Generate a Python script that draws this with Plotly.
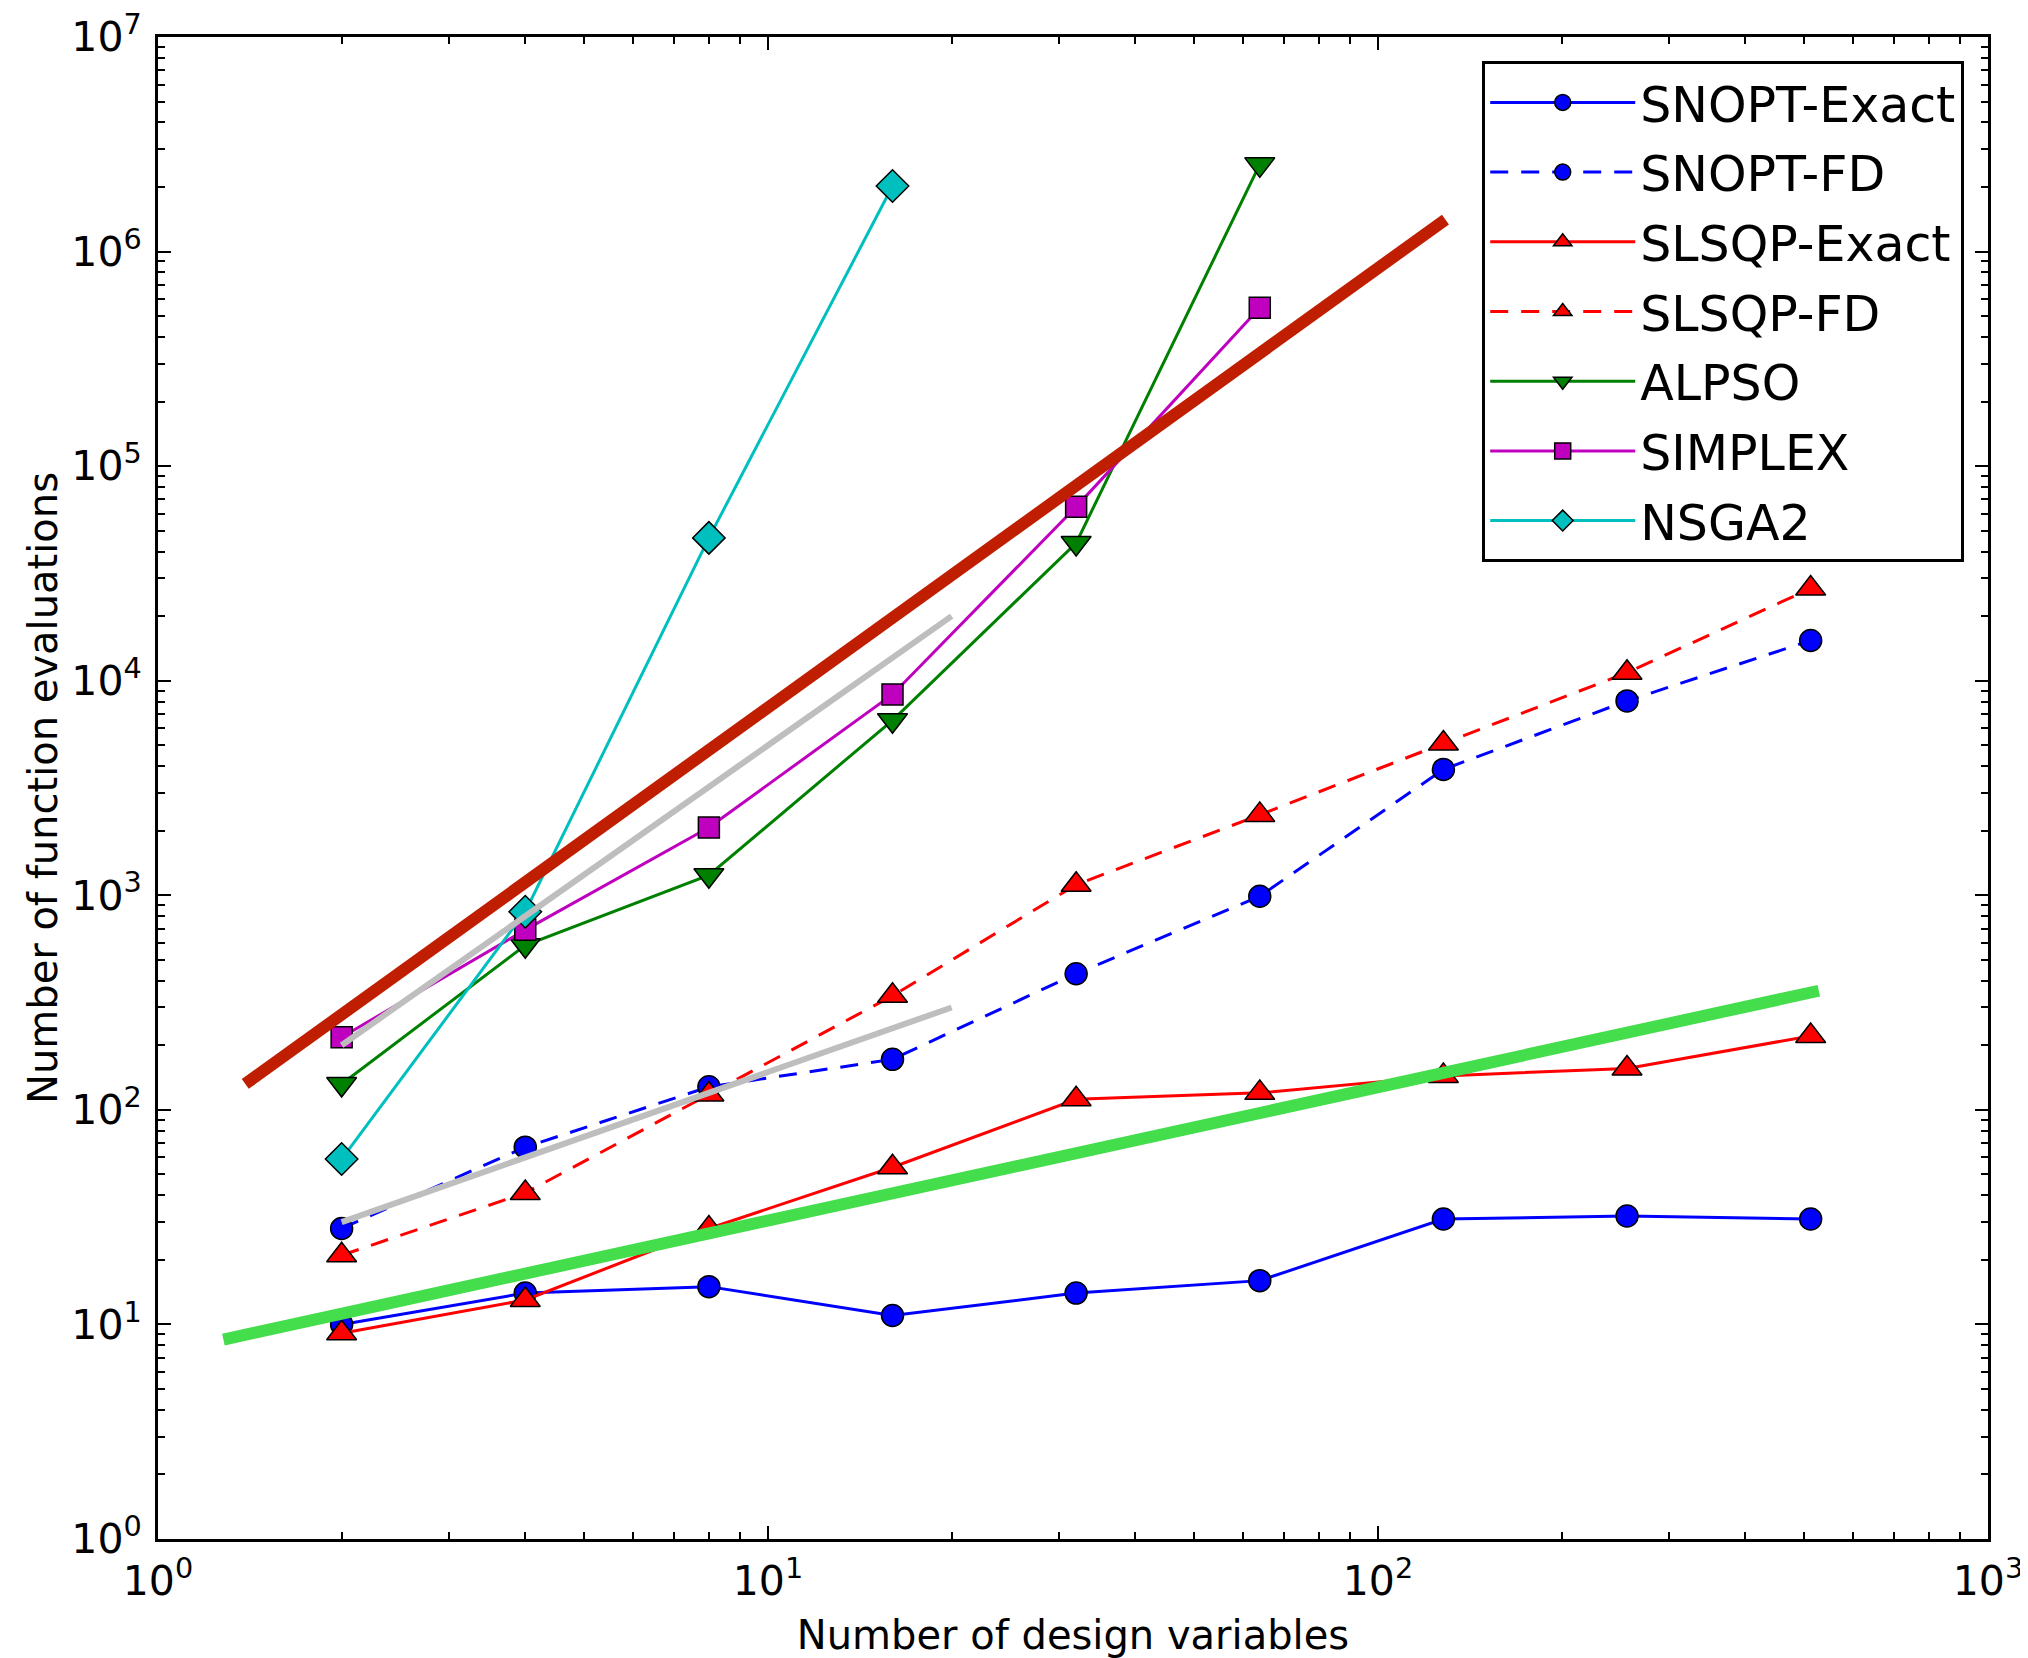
import plotly.graph_objects as go

# ---- data ----
n_vars = [2, 4, 8, 16, 32, 64, 128, 256, 512]
snopt_exact = [10, 14, 15, 11, 14, 16, 31, 32, 31]
snopt_fd = [28, 67, 128, 172, 431, 990, 3860, 8050, 15400]
slsqp_exact = [9.1, 13, 28, 54, 112, 120, 144, 156, 221]
slsqp_fd = [21, 41, 118, 340, 1120, 2370, 5100, 10900, 26900]
alpso_x = [2, 4, 8, 16, 32, 64]
alpso = [132, 585, 1240, 6540, 43800, 2.55e6]
simplex_x = [2, 4, 8, 16, 32, 64]
simplex = [218, 690, 2070, 8630, 64600, 547000]
nsga2_x = [2, 4, 8, 16]
nsga2 = [59, 838, 46300, 2.02e6]

# reference trend lines (end points)
quad_x = [1.39, 129]
quad_y = [132, 1.41e6]
lin_x = [1.28, 528]
lin_y = [8.5, 359]
gray_hi_x = [2, 20]
gray_hi_y = [200, 20000]
gray_lo_x = [2, 20]
gray_lo_y = [30, 300]

xtick_vals = [1, 10, 100, 1000]
xtick_text = ["10<sup>0</sup>", "10<sup>1</sup>", "10<sup>2</sup>", "10<sup>3</sup>"]
ytick_vals = [10 ** i for i in range(8)]
ytick_text = ["10<sup>%d</sup>" % i for i in range(8)]

FONT = "DejaVu Sans"

fig = go.Figure()

series = [
    ("SNOPT-Exact", n_vars, snopt_exact, "#0000FF", "solid", "circle", 22),
    ("SNOPT-FD", n_vars, snopt_fd, "#0000FF", "18px,13px", "circle", 22),
    ("SLSQP-Exact", n_vars, slsqp_exact, "#FF0000", "solid", "triangle-up", 26),
    ("SLSQP-FD", n_vars, slsqp_fd, "#FF0000", "18px,13px", "triangle-up", 26),
    ("ALPSO", alpso_x, alpso, "#008000", "solid", "triangle-down", 26),
    ("SIMPLEX", simplex_x, simplex, "#BF00BF", "solid", "square", 21),
    ("NSGA2", nsga2_x, nsga2, "#00BFBF", "solid", "diamond", 25),
]
for i, (name, xs, ys, col, dash, sym, ms) in enumerate(series):
    fig.add_trace(go.Scatter(
        x=xs, y=ys, name=name, mode="lines+markers",
        legendgroup="g%d" % i,
        line=dict(color=col, width=3, dash=dash),
        marker=dict(symbol=sym, size=ms, color=col,
                    line=dict(color="black", width=1.5)),
    ))

for xs, ys, col, w in [
    (gray_hi_x, gray_hi_y, "#BEBEBE", 6),
    (gray_lo_x, gray_lo_y, "#BEBEBE", 6),
    (quad_x, quad_y, "#C01E00", 12),
    (lin_x, lin_y, "#44DD4C", 12),
]:
    fig.add_trace(go.Scatter(x=xs, y=ys, mode="lines", showlegend=False,
                             line=dict(color=col, width=w), hoverinfo="skip"))

minor_x = [m * 10 ** e for e in range(3) for m in range(2, 10)]
minor_y = [m * 10 ** e for e in range(7) for m in range(2, 10)]

axis_common = dict(
    showgrid=False, zeroline=False, showline=True, linecolor="black",
    linewidth=3, mirror="allticks", ticks="inside", ticklen=13, tickwidth=2,
    tickcolor="black", tickfont=dict(family=FONT, size=41, color="black"),
    tickmode="array", ticklabeloverflow="allow",
)

fig.update_xaxes(
    type="log", range=[0, 3], tickvals=xtick_vals, ticktext=xtick_text,
    minor=dict(tickmode="array", tickvals=minor_x, ticks="inside",
               ticklen=7, tickwidth=2, tickcolor="black", showgrid=False),
    ticklabelstandoff=4,
    title=dict(text="Number of design variables",
               font=dict(family=FONT, size=40, color="black"), standoff=22),
    **axis_common,
)
fig.update_yaxes(
    type="log", range=[0, 7], tickvals=ytick_vals, ticktext=ytick_text,
    minor=dict(tickmode="array", tickvals=minor_y, ticks="inside",
               ticklen=7, tickwidth=2, tickcolor="black", showgrid=False),
    ticklabelstandoff=5,
    title=dict(text="Number of function evaluations",
               font=dict(family=FONT, size=40, color="black"), standoff=2),
    **axis_common,
)

fig.update_layout(
    width=2020, height=1650,
    margin=dict(l=150, r=40, t=29, b=119, autoexpand=False),
    paper_bgcolor="white", plot_bgcolor="white",
    font=dict(family=FONT, color="black"),
    legend=dict(
        x=0.987, y=0.984, xanchor="right", yanchor="top",
        bgcolor="white", bordercolor="black", borderwidth=3,
        font=dict(family=FONT, size=49, color="black"),
        traceorder="grouped", tracegroupgap=3, itemwidth=145,
    ),
)

fig.write_html("out.html")
